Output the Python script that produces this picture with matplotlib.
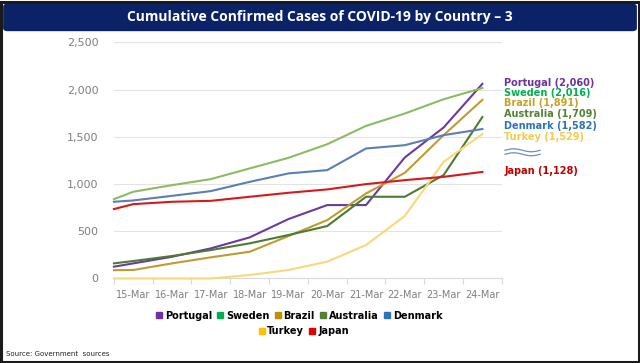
import numpy as np
import matplotlib
matplotlib.use("Agg")
import matplotlib.pyplot as plt
from matplotlib.patches import FancyBboxPatch, Rectangle
from matplotlib.lines import Line2D

dates = ["15-Mar", "16-Mar", "17-Mar", "18-Mar", "19-Mar",
         "20-Mar", "21-Mar", "22-Mar", "23-Mar", "24-Mar"]

# first value in each list sits at the left edge of the plot (half a day before 15-Mar)
portugal = [125, 160, 230, 319, 435, 629, 777, 777, 1281, 1598, 2060]
sweden = [840, 918, 988, 1052, 1165, 1277, 1421, 1615, 1746, 1897, 2016]
brazil = [88, 90, 160, 224, 283, 449, 618, 900, 1118, 1517, 1891]
australia = [160, 185, 238, 301, 372, 460, 555, 865, 865, 1094, 1709]
denmark = [812, 826, 875, 925, 1023, 1112, 1147, 1376, 1411, 1517, 1582]
turkey = [0, 0, 0, 0, 37, 90, 178, 354, 661, 1235, 1529]
japan = [735, 787, 812, 822, 865, 907, 943, 999, 1041, 1076, 1128]

countries = ["Portugal", "Sweden", "Brazil", "Australia", "Denmark", "Turkey", "Japan"]
series = [portugal, sweden, brazil, australia, denmark, turkey, japan]
line_colors = ["#6b3a9e", "#8dbb63", "#bf9b30", "#4e7a32", "#5b7fb5", "#f5d97a", "#d7191c"]
legend_colors = ["#7030a0", "#00b050", "#bf9000", "#548235", "#2e75b6", "#ffc000", "#e00000"]
label_colors = ["#7030a0", "#00b050", "#c9a227", "#548235", "#2e75b6", "#f2cc4c", "#c00000"]

fig = plt.figure(figsize=(6.4, 3.63), dpi=100)
fig.patch.set_facecolor("white")

# outer frame and title banner
fig.patches.append(Rectangle((0.002, 0.004), 0.996, 0.99, transform=fig.transFigure,
                             fill=False, edgecolor="#1a1a1a", linewidth=2.2))
fig.patches.append(FancyBboxPatch((0.006, 0.916), 0.988, 0.072,
                                  boxstyle="round,pad=0,rounding_size=0.006",
                                  transform=fig.transFigure, facecolor="#0b2266",
                                  edgecolor="#0b2266"))
fig.text(0.5, 0.952, "Cumulative Confirmed Cases of COVID-19 by Country \u2013 3",
         ha="center", va="center", color="white", fontsize=10,
         fontweight="bold", family="Open Sans")

ax = fig.add_axes([0.178, 0.2328, 0.606, 0.6507])
x = np.concatenate([[-0.5], np.arange(len(dates))])
for name, vals, c in zip(countries, series, line_colors):
    ax.plot(x, vals, color=c, lw=1.5, clip_on=False, zorder=3)

ax.set_xlim(-0.5, len(dates) - 0.5)
ax.set_ylim(0, 2500)
ax.set_yticks(range(0, 2501, 500))
ax.set_yticklabels([f"{v:,}" for v in range(0, 2501, 500)])
ax.set_xticks(np.arange(len(dates)))
ax.set_xticklabels(dates)
ax.set_xticks(np.arange(-0.5, len(dates)), minor=True)
ax.tick_params(axis="x", which="major", length=0, labelsize=7, colors="#7f7f7f", pad=8)
ax.tick_params(axis="x", which="minor", length=4, color="#d9d9d9", width=0.8)
ax.tick_params(axis="y", length=0, labelsize=8, colors="#7f7f7f", pad=11)
ax.grid(axis="y", color="#e3e3e3", lw=0.8)
ax.set_axisbelow(True)
for s in ["top", "right", "left"]:
    ax.spines[s].set_visible(False)
ax.spines["bottom"].set_color("#d9d9d9")

# end labels on the right
label_y = [0.772, 0.743, 0.715, 0.685, 0.654, 0.622, 0.530]
for name, vals, c, yy in zip(countries, series, label_colors, label_y):
    fig.text(0.788, yy, f"{name} ({vals[-1]:,})", color=c, fontsize=7,
             fontweight="bold", va="center", ha="left")

# break marker between Turkey and Japan
t = np.linspace(0, 1, 60)
for off in (0.0, 0.011):
    fig.add_artist(Line2D(0.789 + 0.055 * t,
                          0.575 + off + 0.004 * np.sin(t * 2 * np.pi),
                          transform=fig.transFigure, color="#6f8fb8", lw=0.9))

handles = [Line2D([], [], marker="s", ls="", color=c, markersize=4) for c in legend_colors]
leg1 = fig.legend(handles[:5], countries[:5], loc="center", bbox_to_anchor=(0.468, 0.130),
                  ncol=5, frameon=False, fontsize=7, handlelength=0.5,
                  handletextpad=0.35, columnspacing=0.6)
leg2 = fig.legend(handles[5:], countries[5:], loc="center", bbox_to_anchor=(0.475, 0.088),
                  ncol=2, frameon=False, fontsize=7, handlelength=0.5,
                  handletextpad=0.35, columnspacing=0.6)
for lg in (leg1, leg2):
    for txt in lg.get_texts():
        txt.set_fontweight("bold")

fig.text(0.01, 0.025, "Source: Government  sources", fontsize=5, color="#222222",
         ha="left", va="center")

fig.savefig("out.png", dpi=100)
